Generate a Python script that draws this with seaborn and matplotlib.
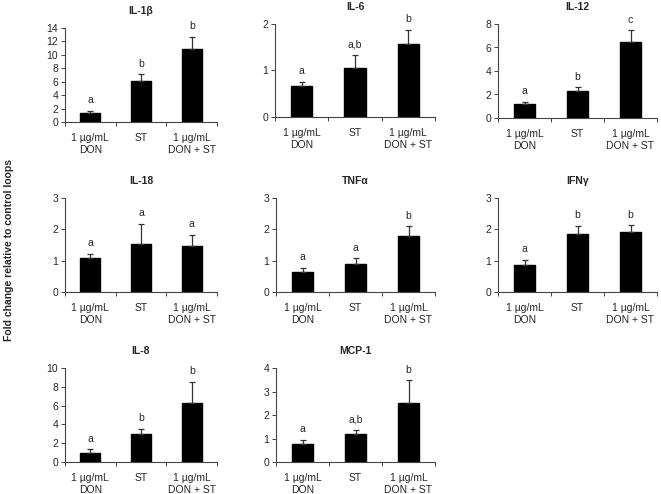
import numpy as np
import pandas as pd
import matplotlib
matplotlib.use('Agg')
import matplotlib.pyplot as plt
import seaborn as sns

sns.set_style('white')
plt.rcParams['font.family'] = ['Liberation Sans', 'DejaVu Sans']
plt.rcParams['font.size'] = 7.5

# data
groups = ['1 µg/mL\nDON', 'ST', '1 µg/mL\nDON + ST']
titles = ['IL-1β', 'IL-6', 'IL-12', 'IL-18', 'TNFα', 'IFNγ', 'IL-8', 'MCP-1']
means = [
    [1.4, 6.1, 10.9],
    [0.67, 1.06, 1.58],
    [1.15, 2.33, 6.45],
    [1.1, 1.52, 1.47],
    [0.63, 0.9, 1.8],
    [0.87, 1.85, 1.9],
    [1.0, 3.0, 6.25],
    [0.78, 1.18, 2.52],
]
errors = [
    [0.3, 1.0, 1.8],
    [0.08, 0.27, 0.3],
    [0.25, 0.27, 1.0],
    [0.12, 0.66, 0.35],
    [0.14, 0.18, 0.3],
    [0.16, 0.27, 0.23],
    [0.35, 0.5, 2.3],
    [0.17, 0.17, 0.95],
]
letters = [
    ['a', 'b', 'b'],
    ['a', 'a,b', 'b'],
    ['a', 'b', 'c'],
    ['a', 'a', 'a'],
    ['a', 'a', 'b'],
    ['a', 'b', 'b'],
    ['a', 'b', 'b'],
    ['a', 'a,b', 'b'],
]
ymax = [14, 2, 8, 3, 3, 3, 10, 4]
ystep = [2, 1, 2, 1, 1, 1, 2, 1]

W, H = 661, 494
# panel boxes in pixels: left, right, top, bottom
boxes = [
    (65, 217, 28, 122), (275, 435, 24, 117), (498, 657, 24, 118),
    (65, 217, 198, 292), (276, 435, 198, 292), (498, 657, 198, 292),
    (65, 217, 368, 462), (276, 435, 368, 462),
]

fig = plt.figure(figsize=(W / 100, H / 100), dpi=100)

for k, title in enumerate(titles):
    l, r, t, b = boxes[k]
    ax = fig.add_axes([l / W, 1 - b / H, (r - l) / W, (b - t) / H])
    df = pd.DataFrame({'group': groups, 'value': means[k]})
    sns.barplot(data=df, x='group', y='value', ax=ax, color='black',
                saturation=1, width=0.4, errorbar=None, edgecolor='black')
    ax.errorbar(range(3), means[k], yerr=[np.zeros(3), errors[k]], fmt='none',
                ecolor='#333333', elinewidth=0.9, capsize=2.5, capthick=0.9)
    for i in range(3):
        ax.annotate(letters[k][i], (i, means[k][i] + errors[k][i]),
                    xytext=(0, 5.5), textcoords='offset points',
                    ha='center', va='baseline', fontsize=7.5)
    ax.set_xlim(-0.5, 2.5)
    ax.set_ylim(0, ymax[k])
    ax.set_yticks(np.arange(0, ymax[k] + 0.01, ystep[k]))
    ax.set_xticks([-0.5, 0.5, 1.5, 2.5], minor=True)
    ax.tick_params(axis='x', which='major', length=0, pad=8, labelsize=7.5)
    ax.tick_params(axis='x', which='minor', length=3, width=0.7, direction='out',
                   color='#444444', bottom=True)
    ax.tick_params(axis='y', length=3, width=0.7, direction='out', color='#444444',
                   left=True, pad=2, labelsize=7.5)
    ax.set_xlabel('')
    ax.set_ylabel('')
    ax.set_title(title, fontsize=7.5, fontweight='bold', pad=10)
    sns.despine(ax=ax)
    for s in ['left', 'bottom']:
        ax.spines[s].set_color('#444444')
        ax.spines[s].set_linewidth(0.8)

fig.text(9 / W, 1 - 250 / H, 'Fold change relative to control loops', rotation=90,
         ha='center', va='center', fontsize=7.5, fontweight='bold')

fig.savefig('out.png', dpi=100)
